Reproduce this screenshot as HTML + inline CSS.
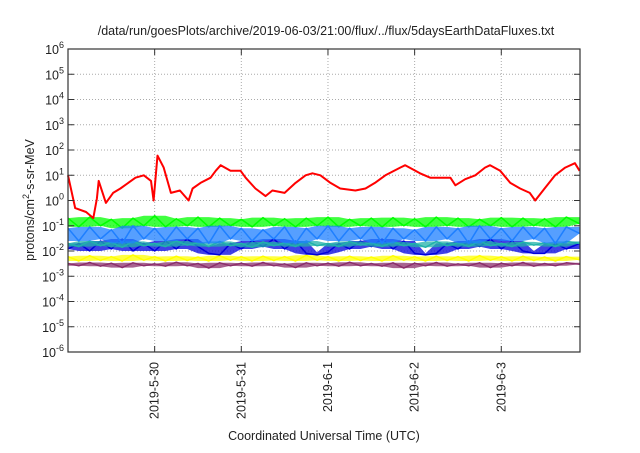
<!DOCTYPE html>
<html><head><meta charset="utf-8"><style>
body{margin:0;background:#fff;}
svg text{font-family:"Liberation Sans",sans-serif;fill:#222;}
</style></head><body>
<svg id="chart" width="640" height="448" viewBox="0 0 640 448" xmlns="http://www.w3.org/2000/svg">
<text x="326" y="35" font-size="12.5" text-anchor="middle">/data/run/goesPlots/archive/2019-06-03/21:00/flux/../flux/5daysEarthDataFluxes.txt</text>
<g id="grid"></g>
<g id="series"></g>
<rect x="68" y="49" width="512" height="303" fill="none" stroke="#333" stroke-width="1.2"/>
<g id="axes"></g>
<text transform="translate(34,200) rotate(-90)" font-size="12.5" text-anchor="middle">protons/cm<tspan dy="-5" font-size="9">2</tspan><tspan dy="5">-s-sr-MeV</tspan></text>
<text x="324" y="440" font-size="12.5" text-anchor="middle">Coordinated Universal Time (UTC)</text>
</svg>
<script>
const xTickHours=[24,48,72,96,120];
const xTickLabels=["2019-5-30","2019-5-31","2019-6-1","2019-6-2","2019-6-3"];
const yTickExps=[-6,-5,-4,-3,-2,-1,0,1,2,3,4,5,6];
const redT=[0,2,5,7,8,8.5,10.5,12.5,14.5,18.7,21,23,23.7,24.8,26.5,28.5,31,33.4,34.5,36.7,39.5,40.9,42.3,45,47.8,49.2,51.9,54.7,56.6,60,63,65.8,67.7,69.9,72.7,75.4,79.6,82.4,85,87.9,92,93.4,97.5,100.3,103,105.9,107.3,110,112.8,115.5,116.9,119.7,122.5,125.2,127.9,129.4,132,134.9,137.7,140.4,141.7];
const redV=[10,0.5,0.35,0.2,1.2,6,0.8,2,3,8,10,6,1,60,20,2,2.5,1,3,5,8,15,25,15,15,8,3,1.5,2.5,2,5,10,12,10,5,3,2.5,3,5,10,20,25,12,8,8,8,4,7,10,20,25,15,5,3,2,1,3,10,20,30,15];
const bandT=[0,3,6,9,12,15,18,21,24,27,30,33,36,39,42,45,48,51,54,57,60,63,66,69,72,75,78,81,84,87,90,93,96,99,102,105,108,111,114,117,120,123,126,129,132,135,138,141.7];
const greenV=[0.2,0.09,0.22,0.1,0.18,0.08,0.2,0.1,0.25,0.09,0.19,0.1,0.22,0.09,0.2,0.1,0.18,0.09,0.21,0.1,0.19,0.09,0.2,0.1,0.22,0.09,0.18,0.1,0.2,0.09,0.21,0.1,0.19,0.09,0.22,0.1,0.2,0.09,0.18,0.1,0.21,0.09,0.2,0.1,0.19,0.09,0.22,0.12];
const lblueV=[0.08,0.025,0.09,0.03,0.07,0.02,0.1,0.03,0.08,0.025,0.09,0.03,0.08,0.02,0.1,0.03,0.08,0.025,0.07,0.03,0.09,0.02,0.08,0.03,0.1,0.025,0.08,0.03,0.09,0.02,0.08,0.03,0.07,0.025,0.09,0.03,0.08,0.02,0.1,0.03,0.08,0.025,0.09,0.03,0.08,0.02,0.09,0.05];
const dblueV=[0.012,0.02,0.01,0.025,0.012,0.03,0.01,0.02,0.01,0.025,0.012,0.03,0.015,0.008,0.007,0.02,0.012,0.025,0.015,0.03,0.012,0.025,0.008,0.007,0.009,0.02,0.012,0.025,0.015,0.03,0.012,0.025,0.008,0.007,0.008,0.02,0.012,0.025,0.015,0.03,0.012,0.025,0.01,0.008,0.008,0.02,0.012,0.02];
const tealV=[0.02,0.015,0.025,0.016,0.022,0.014,0.024,0.016,0.02,0.015,0.025,0.017,0.021,0.015,0.024,0.016,0.02,0.014,0.023,0.016,0.021,0.015,0.025,0.016,0.02,0.015,0.024,0.017,0.021,0.015,0.023,0.016,0.02,0.014,0.024,0.016,0.021,0.015,0.025,0.016,0.02,0.015,0.023,0.017,0.021,0.015,0.024,0.02];
const yellowV=[0.006,0.004,0.0065,0.0042,0.006,0.004,0.007,0.0043,0.006,0.004,0.0062,0.0042,0.0058,0.004,0.0065,0.0043,0.006,0.004,0.0062,0.0042,0.006,0.004,0.0068,0.0043,0.006,0.004,0.0062,0.0042,0.0058,0.004,0.0065,0.0043,0.006,0.004,0.0062,0.0042,0.006,0.004,0.0066,0.0043,0.006,0.004,0.0062,0.0042,0.0058,0.004,0.006,0.0045];
const purpleV=[0.0032,0.0026,0.0035,0.0025,0.0033,0.0022,0.0034,0.0026,0.0031,0.0025,0.0036,0.0026,0.0032,0.0021,0.0034,0.0026,0.0033,0.0025,0.0035,0.0026,0.0031,0.0022,0.0034,0.0026,0.0033,0.0025,0.0036,0.0026,0.0032,0.0025,0.0034,0.0021,0.0033,0.0026,0.0035,0.0025,0.0031,0.0026,0.0034,0.0022,0.0033,0.0026,0.0035,0.0025,0.0032,0.0026,0.0034,0.003];

const L=68,R=580,T=49,B=352,H0=0,H1=141.8;
const X=h=>L+(h-H0)/(H1-H0)*(R-L);
const Y=v=>B-(Math.log10(v)+6)/12*(B-T);
const NS="http://www.w3.org/2000/svg";
function mk(tag,attrs,parent){const e=document.createElementNS(NS,tag);for(const k in attrs)e.setAttribute(k,attrs[k]);parent.appendChild(e);return e;}
const grid=document.getElementById('grid'),axes=document.getElementById('axes'),ser=document.getElementById('series');
yTickExps.forEach(p=>{
  const y=Y(Math.pow(10,p));
  if(p>-6&&p<6){const g=mk('line',{x1:L,x2:R,y1:y,y2:y,stroke:'#aaa','stroke-dasharray':'1,2','stroke-width':1},grid);
  }
  const t1=mk('line',{x1:L,x2:L+6,y1:y,y2:y,stroke:'#333'},axes);
  
  const t2=mk('line',{x1:R-6,x2:R,y1:y,y2:y,stroke:'#333'},axes);
  
  const tx=mk('text',{x:L-4,y:y+5,'font-size':12.5,'text-anchor':'end'},axes);
  
  tx.textContent='10';const sp=mk('tspan',{dy:-6,'font-size':9},tx);sp.textContent=String(p);
});
xTickHours.forEach((h,i)=>{
  const x=X(h);
  const g=mk('line',{x1:x,x2:x,y1:T,y2:B,stroke:'#aaa','stroke-dasharray':'1,2'},grid);
  
  const t1=mk('line',{x1:x,x2:x,y1:B,y2:B-6,stroke:'#333'},axes);
  
  const t2=mk('line',{x1:x,x2:x,y1:T,y2:T+6,stroke:'#333'},axes);
  
  const tx=mk('text',{transform:`translate(${x+4},${B+10}) rotate(-90)`,'font-size':12.5,'text-anchor':'end'},axes);
  
  tx.textContent=xTickLabels[i];
});
function line(ts,vs,color,w,name){
  const d=ts.map((t,i)=>(i?'L':'M')+X(t).toFixed(1)+','+Y(vs[i]).toFixed(1)).join('');
  const p=mk('path',{d:d,fill:'none',stroke:color,'stroke-width':w,'stroke-linejoin':'round'},ser);
  
}
// band: a dense saw between the points of the series (each point gives a peak), drawn as a filled envelope
function band(ts,vs,color,name){
  // envelope: upper = max of neighbours, lower = min of neighbours
  const up=[],lo=[];
  for(let i=0;i<ts.length;i++){
    const a=vs[Math.max(0,i-1)],b=vs[i],c=vs[Math.min(ts.length-1,i+1)];
    up.push(Math.max(a,b,c));lo.push(Math.min(a,b,c));
  }
  let d=ts.map((t,i)=>(i?'L':'M')+X(t).toFixed(1)+','+Y(up[i]).toFixed(1)).join('');
  for(let i=ts.length-1;i>=0;i--)d+='L'+X(ts[i]).toFixed(1)+','+Y(lo[i]).toFixed(1);
  const p=mk('path',{d:d+'Z',fill:color,'fill-opacity':0.75,stroke:'none'},ser);
  
  line(ts,vs,color,1.5,name);
}
band(bandT,purpleV,'#8b2f6b','series-purple');
band(bandT,yellowV,'#ffff00','series-yellow');
band(bandT,greenV,'#00ff00','series-green');
band(bandT,dblueV,'#0000dd','series-dark-blue');
band(bandT,tealV,'#20b2aa','series-teal');
band(bandT,lblueV,'#1e7fff','series-light-blue');
line(redT,redV,'#ff0000',2,'series-red');
</script>
</body></html>
